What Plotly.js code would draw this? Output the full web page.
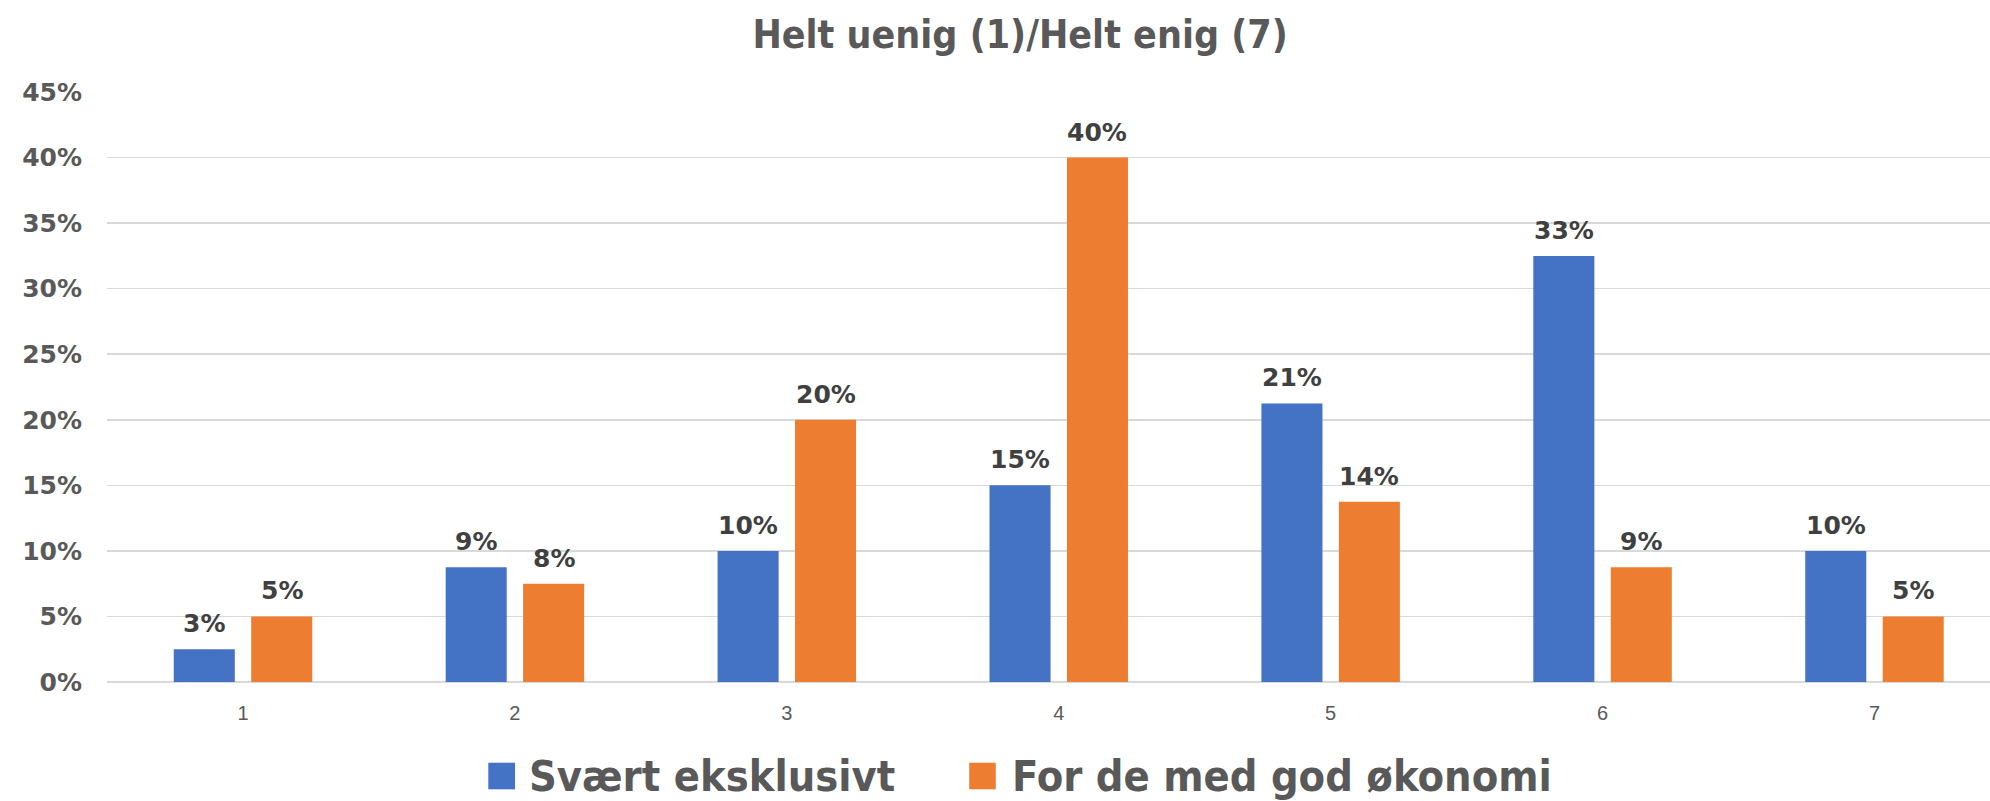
<!DOCTYPE html>
<html>
<head>
<meta charset="utf-8">
<script src="https://cdn.plot.ly/plotly-3.0.1.min.js"></script>
<style>
  html, body { margin: 0; padding: 0; background: #ffffff; }
  #chart { width: 1990px; height: 801px; }
</style>
</head>
<body>
<div id="chart"></div>
<script>
// ---- Data ----
const chartTitle = 'Helt uenig (1)/Helt enig (7)';
const categories = ['1', '2', '3', '4', '5', '6', '7'];
const seriesNames = ['Svært eksklusivt', 'For de med god økonomi'];
const svaertEksklusivt = [2.5, 8.75, 10, 15, 21.25, 32.5, 10];
const forDeMedGodOkonomi = [5, 7.5, 20, 40, 13.75, 8.75, 5];
const yTickVals = [0, 5, 10, 15, 20, 25, 30, 35, 40, 45];
const yTickLabels = ['0%', '5%', '10%', '15%', '20%', '25%', '30%', '35%', '40%', '45%'];

// ---- Styling ----
const colors = ['#4472C4', '#ED7D31'];
const barWidth = 0.2245;
const offsets = [-0.2545, 0.0303];
const narrowFont = "'DejaVu Sans Condensed', 'DejaVu Sans', sans-serif";
const boldFont = "'DejaVu Sans', sans-serif";
const textGrey = '#595959';

const xIdx = categories.map((c, i) => i);
const seriesValues = [svaertEksklusivt, forDeMedGodOkonomi];

const traces = seriesValues.map((vals, s) => ({
  type: 'bar',
  name: seriesNames[s],
  x: xIdx,
  y: vals,
  width: barWidth,
  offset: offsets[s],
  marker: { color: colors[s], line: { width: 0 } },
  showlegend: false,
  hoverinfo: 'y'
}));

// data labels
const annotations = [];
seriesValues.forEach((vals, s) => {
  vals.forEach((v, i) => {
    annotations.push({
      x: i + offsets[s] + barWidth / 2,
      y: v,
      xref: 'x', yref: 'y',
      text: Math.round(v) + '%',
      showarrow: false,
      yanchor: 'bottom',
      xanchor: 'center',
      yshift: 9,
      font: { family: boldFont, size: 25, color: '#404040', weight: 'bold' }
    });
  });
});

// manual legend (large squares like the reference)
const legendSquares = [[0.2025, 0.2167], [0.4579, 0.4720]];
const legendTextX = [0.2229, 0.4795];
const shapes = [];
seriesNames.forEach((name, s) => {
  shapes.push({
    type: 'rect', xref: 'paper', yref: 'paper',
    x0: legendSquares[s][0], x1: legendSquares[s][1],
    y0: -0.1368, y1: -0.1819,
    fillcolor: colors[s], line: { width: 0 }
  });
  annotations.push({
    xref: 'paper', yref: 'paper',
    x: legendTextX[s], y: -0.159,
    xanchor: 'left', yanchor: 'middle',
    text: name, showarrow: false,
    font: { family: narrowFont, size: 43, color: textGrey, weight: 'bold' }
  });
});

const layout = {
  width: 1990,
  height: 801,
  paper_bgcolor: '#ffffff',
  plot_bgcolor: '#ffffff',
  margin: { l: 107, r: 0, t: 92, b: 119, pad: 0 },
  barmode: 'overlay',
  showlegend: false,
  title: {
    text: chartTitle,
    xref: 'paper', x: 0.4849, xanchor: 'center',
    yref: 'container', y: 0.9566, yanchor: 'middle',
    font: { family: narrowFont, size: 39, color: textGrey, weight: 'bold' }
  },
  xaxis: {
    type: 'linear',
    range: [-0.5, 6.425],
    tickmode: 'array',
    tickvals: xIdx,
    ticktext: categories,
    showgrid: false,
    zeroline: false,
    showline: false,
    ticks: '',
    ticklabelstandoff: 17,
    tickfont: { family: "'Liberation Sans', sans-serif", size: 20, color: textGrey },
    fixedrange: true
  },
  yaxis: {
    range: [0, 45],
    tickmode: 'array',
    tickvals: yTickVals,
    ticktext: yTickLabels,
    showgrid: true,
    gridcolor: '#d9d9d9',
    gridwidth: 1.5,
    zeroline: true,
    zerolinecolor: '#d9d9d9',
    zerolinewidth: 1.5,
    showline: false,
    ticks: '',
    ticklabelstandoff: 24,
    tickfont: { family: boldFont, size: 25, color: textGrey, weight: 'bold' },
    fixedrange: true
  },
  annotations: annotations,
  shapes: shapes
};

Plotly.newPlot('chart', traces, layout, { displayModeBar: false, staticPlot: true });
</script>
</body>
</html>
